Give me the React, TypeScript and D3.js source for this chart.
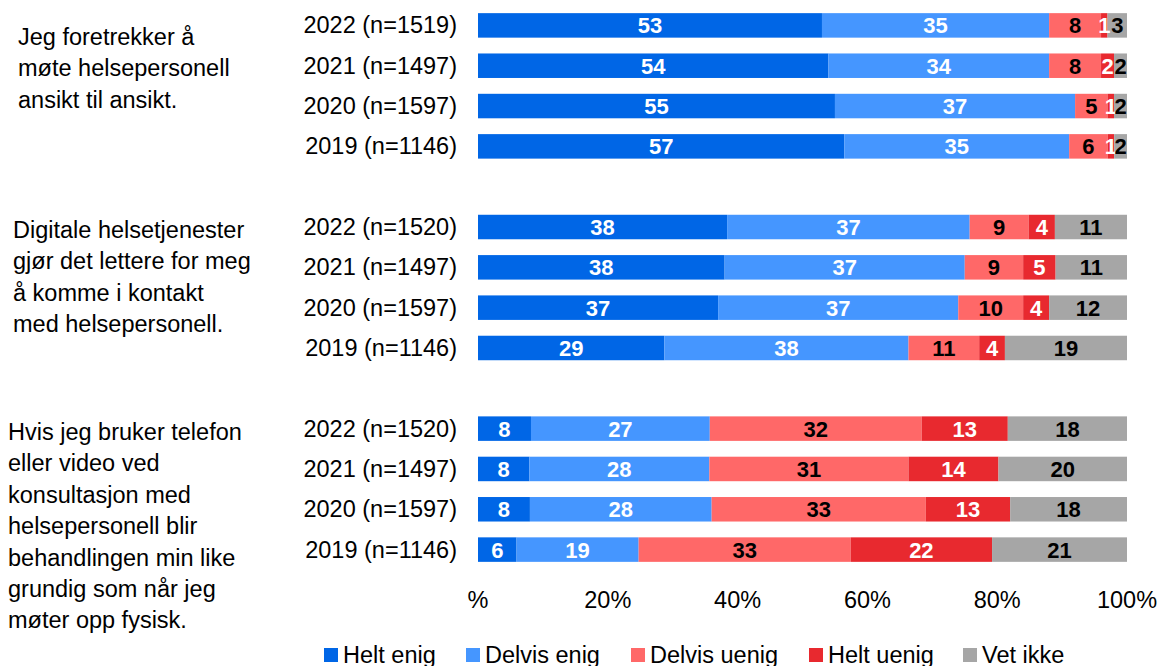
import React from "react";
import * as d3 from "d3";

// Survey statements (left column), each with four yearly bars
const statements: string[][] = [
  ["Jeg foretrekker å", "møte helsepersonell", "ansikt til ansikt."],
  ["Digitale helsetjenester", "gjør det lettere for meg", "å komme i kontakt", "med helsepersonell."],
  [
    "Hvis jeg bruker telefon",
    "eller video ved",
    "konsultasjon med",
    "helsepersonell blir",
    "behandlingen min like",
    "grundig som når jeg",
    "møter opp fysisk.",
  ],
];

const rowLabels: string[] = [
  "2022 (n=1519)", "2021 (n=1497)", "2020 (n=1597)", "2019 (n=1146)",
  "2022 (n=1520)", "2021 (n=1497)", "2020 (n=1597)", "2019 (n=1146)",
  "2022 (n=1520)", "2021 (n=1497)", "2020 (n=1597)", "2019 (n=1146)",
];

const seriesNames = ["Helt enig", "Delvis enig", "Delvis uenig", "Helt uenig", "Vet ikke"];

const heltEnig = [53, 54, 55, 57, 38, 38, 37, 29, 8, 8, 8, 6];
const delvisEnig = [35, 34, 37, 35, 37, 37, 37, 38, 27, 28, 28, 19];
const delvisUenig = [8, 8, 5, 6, 9, 9, 10, 11, 32, 31, 33, 33];
const heltUenig = [1, 2, 1, 1, 4, 5, 4, 4, 13, 14, 13, 22];
const vetIkke = [3, 2, 2, 2, 11, 11, 12, 19, 18, 20, 18, 21];

const tickValues = [0, 0.2, 0.4, 0.6, 0.8, 1];
const tickLabels = ["%", "20%", "40%", "60%", "80%", "100%"];

const colors = ["#0066e6", "#4596ff", "#ff6868", "#e8292f", "#a6a6a6"];
const labelColors = ["#ffffff", "#ffffff", "#000000", "#ffffff", "#000000"];

const W = 1160;
const H = 666;
const FONT = "'Liberation Sans', Arial, Helvetica, sans-serif";
const TEXT_SIZE = 23.5;
const VALUE_SIZE = 22;

// Slot keys: 4 rows per group, one empty slot between groups
const slotKeys: string[] = [];
const rowSlot: string[] = [];
for (let g = 0; g < 3; g++) {
  for (let r = 0; r < 4; r++) {
    const k = `g${g}r${r}`;
    slotKeys.push(k);
    rowSlot.push(k);
  }
  if (g < 2) slotKeys.push(`gap${g}`);
}

const x = d3.scaleLinear().domain([0, 1]).range([478, 1127]);
const y = d3.scalePoint<string>().domain(slotKeys).range([25.4, 549.6]);
const barH = 24.5;

const rows = rowLabels.map((label, i) => ({
  label,
  slot: rowSlot[i],
  "Helt enig": heltEnig[i],
  "Delvis enig": delvisEnig[i],
  "Delvis uenig": delvisUenig[i],
  "Helt uenig": heltUenig[i],
  "Vet ikke": vetIkke[i],
}));

const stacked = d3
  .stack<any>()
  .keys(seriesNames)
  .offset(d3.stackOffsetExpand)(rows);

const statementX = [18, 13, 8];
const statementY0 = [45, 238, 440];
const lineGap = 31.4;

const legendX = [324, 466, 631, 809, 963];

export default function App() {
  return (
    <svg
      width={W}
      height={H}
      style={{ position: "absolute", left: 0, top: 0, background: "#fff" }}
      fontFamily={FONT}
    >
      {/* statement text */}
      {statements.map((lines, g) => (
        <text key={g} x={statementX[g]} y={statementY0[g]} fontSize={TEXT_SIZE} fill="#000">
          {lines.map((ln, j) => (
            <tspan key={j} x={statementX[g]} y={statementY0[g] + j * lineGap}>
              {ln}
            </tspan>
          ))}
        </text>
      ))}

      {/* row labels */}
      {rows.map((r) => (
        <text
          key={r.slot}
          x={457}
          y={(y(r.slot) as number) + 8}
          textAnchor="end"
          fontSize={TEXT_SIZE}
          fill="#000"
        >
          {r.label}
        </text>
      ))}

      {/* stacked bars */}
      {stacked.map((layer, si) => (
        <g key={layer.key}>
          {layer.map((d, i) => {
            const cy = y(rows[i].slot) as number;
            const x0 = x(d[0]);
            const x1 = x(d[1]);
            return (
              <rect
                key={i}
                x={x0}
                y={cy - barH / 2}
                width={Math.max(0, x1 - x0)}
                height={barH}
                fill={colors[si]}
              />
            );
          })}
        </g>
      ))}

      {/* value labels */}
      {stacked.map((layer, si) => (
        <g key={layer.key + "-lbl"}>
          {layer.map((d, i) => {
            const cy = y(rows[i].slot) as number;
            const cx = (x(d[0]) + x(d[1])) / 2;
            return (
              <text
                key={i}
                x={cx}
                y={cy + 8}
                textAnchor="middle"
                fontSize={VALUE_SIZE}
                fontWeight="bold"
                fill={labelColors[si]}
              >
                {(rows[i] as any)[layer.key]}
              </text>
            );
          })}
        </g>
      ))}

      {/* x axis tick labels */}
      {tickValues.map((t, i) => (
        <text key={t} x={x(t)} y={608} textAnchor="middle" fontSize={TEXT_SIZE} fill="#000">
          {tickLabels[i]}
        </text>
      ))}

      {/* legend */}
      {seriesNames.map((name, i) => (
        <g key={name} transform={`translate(${legendX[i]},0)`}>
          <rect x={0} y={648} width={14} height={14} fill={colors[i]} />
          <text x={19} y={663} fontSize={TEXT_SIZE} fill="#000">
            {name}
          </text>
        </g>
      ))}
    </svg>
  );
}
